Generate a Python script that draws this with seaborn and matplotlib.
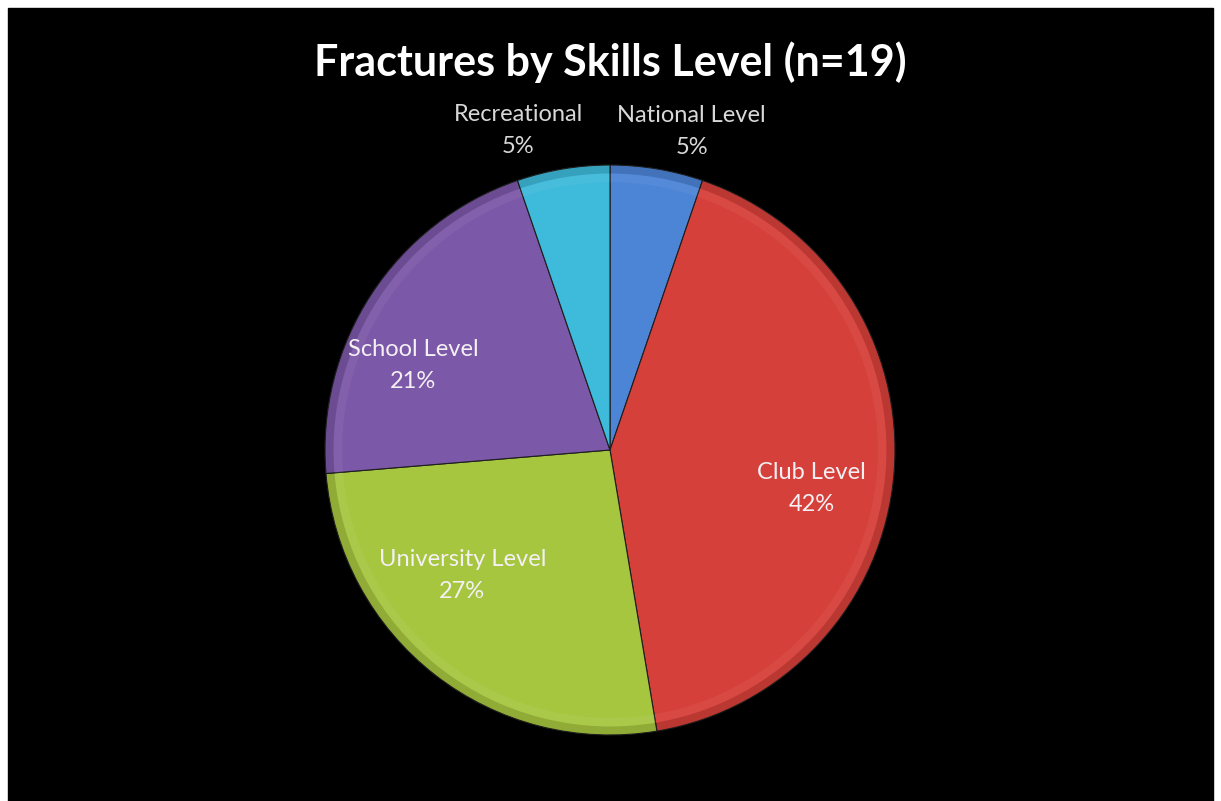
import numpy as np
import matplotlib
matplotlib.use("Agg")
import matplotlib.pyplot as plt
import seaborn as sns

# ---------------------------------------------------------------
# Data (counts, n = 19), order clockwise from 12 o'clock
# ---------------------------------------------------------------
categories = ["National Level", "Club Level", "University Level", "School Level", "Recreational"]
counts = [1, 8, 5, 4, 1]
pct_labels = ["5%", "42%", "27%", "21%", "5%"]   # as printed on the chart
colors = ["#4C84D6", "#D6403A", "#A6C640", "#7C58A8", "#3EBADA"]
title = "Fractures by Skills Level (n=19)"

sns.set_theme(style="white")
plt.rcParams["font.family"] = ["Lato", "DejaVu Sans"]

W, H = 1221, 801
fig = plt.figure(figsize=(W / 100, H / 100), dpi=100, facecolor="white")

# black panel with a thin white margin on left/top/right
bg = plt.Rectangle((8 / W, 0), (1213 - 8) / W, (H - 8) / H,
                   transform=fig.transFigure, color="black", zorder=-10)
fig.add_artist(bg)

# axes placed so that radius 1 == 285 px, centre at (610, 450)
R = 285
lim = 1.2
side = 2 * lim * R
cx, cy = 610, 450
ax = fig.add_axes([(cx - side / 2) / W, (H - cy - side / 2) / H, side / W, side / H])

wedges, _ = ax.pie(counts, colors=colors, startangle=90, counterclock=False,
                   radius=1.0, wedgeprops=dict(edgecolor="#1E1E1E", linewidth=0.8))
ax.set_xlim(-lim, lim)
ax.set_ylim(-lim, lim)
ax.set_aspect("equal")
ax.axis("off")

# soft shading for the bevelled Excel look
for w in wedges:
    ax.add_patch(matplotlib.patches.Wedge((0, 0), 1.0, w.theta1, w.theta2, width=0.03,
                                          facecolor="black", alpha=0.13, lw=0))
    ax.add_patch(matplotlib.patches.Wedge((0, 0), 0.97, w.theta1, w.theta2, width=0.03,
                                          facecolor="white", alpha=0.05, lw=0))

# label placement: (radial distance, angle shift in degrees)
label_pos = [(1.155, -4.9), (0.72, -6), (0.68, -11.7), (0.75, 10), (1.165, 6.6)]
for w, cat, lab, (r, dth) in zip(wedges, categories, pct_labels, label_pos):
    ang = np.deg2rad((w.theta1 + w.theta2) / 2 + dth)
    x, y = r * np.cos(ang), r * np.sin(ang)
    col = "#D8D8D8" if r > 1 else "#F4F0F4"
    ax.text(x, y, f"{cat}\n{lab}", ha="center", va="center", fontsize=17,
            color=col, linespacing=1.65, clip_on=False)

fig.text(cx / W, 1 - 62 / H, title, ha="center", va="center", fontsize=31,
         fontweight="bold", color="white")

fig.savefig("out.png", dpi=100, facecolor="white")
